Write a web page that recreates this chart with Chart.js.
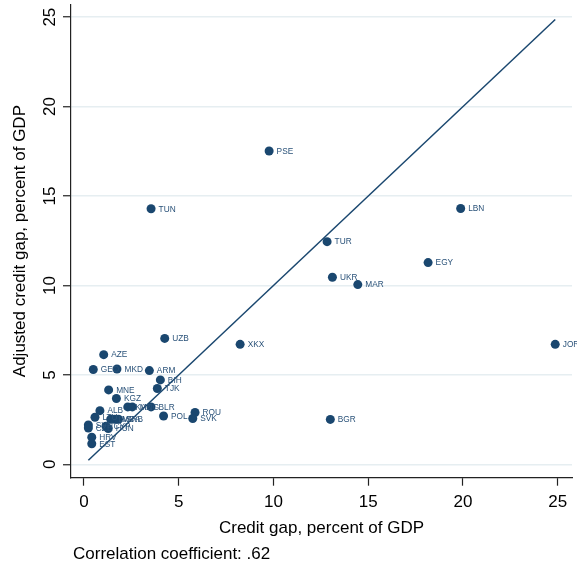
<!DOCTYPE html>
<html>
<head>
<meta charset="utf-8">
<script src="https://cdn.jsdelivr.net/npm/chart.js@4.4.1/dist/chart.umd.min.js"></script>
<style>
  html, body { margin: 0; padding: 0; background: #fff; }
  canvas { display: block; }
</style>
</head>
<body>
<canvas id="chart" width="577" height="570"></canvas>
<script>
  // country codes and the two gaps (percent of GDP)
  const countries = ['PSE', 'TUN', 'LBN', 'TUR', 'EGY', 'UKR', 'MAR', 'UZB', 'XKX', 'JOR',
    'AZE', 'GEO', 'MKD', 'ARM', 'BIH', 'TJK', 'MNE', 'KGZ', 'KAZ', 'MNG', 'BLR', 'ROU',
    'ALB', 'POL', 'SVK', 'BGR', 'LTU', 'LVA', 'MDA', 'SRB', 'SVN', 'CZE', 'CYP', 'HUN',
    'HRV', 'EST'];
  const creditGap = [9.77, 3.54, 19.88, 12.83, 18.16, 13.11, 14.45, 4.26, 8.24, 24.87,
    1.04, 0.49, 1.74, 3.45, 4.03, 3.87, 1.30, 1.71, 2.31, 2.55, 3.54, 5.86,
    0.84, 4.20, 5.74, 13.00, 0.58, 1.41, 1.62, 1.82, 0.23, 0.23, 1.16, 1.28,
    0.41, 0.41];
  const adjustedGap = [17.52, 14.29, 14.30, 12.45, 11.28, 10.46, 10.05, 7.04, 6.71, 6.71,
    6.13, 5.30, 5.33, 5.24, 4.72, 4.24, 4.16, 3.68, 3.21, 3.21, 3.21, 2.90,
    3.00, 2.70, 2.56, 2.51, 2.63, 2.52, 2.52, 2.52, 2.20, 2.03, 2.13, 2.00,
    1.52, 1.15];
  const xTicks = [0, 5, 10, 15, 20, 25];
  const yTicks = [0, 5, 10, 15, 20, 25];
  const xTitle = 'Credit gap, percent of GDP';
  const yTitle = 'Adjusted credit gap, percent of GDP';
  const note = 'Correlation coefficient: .62';

  const navy = '#1a476f';
  const font = '"Liberation Sans", Arial, sans-serif';

  const points = creditGap.map((x, i) => ({ x: x, y: adjustedGap[i] }));
  const lo = Math.min(...creditGap), hi = Math.max(...creditGap);
  const diag = [{ x: lo, y: lo }, { x: hi, y: hi }];

  const extras = {
    id: 'extras',
    afterDatasetsDraw(chart) {
      const ctx = chart.ctx;
      const meta = chart.getDatasetMeta(0);
      ctx.save();
      ctx.font = '8.3px ' + font;
      ctx.fillStyle = '#2a5279';
      ctx.textBaseline = 'middle';
      meta.data.forEach((pt, i) => ctx.fillText(countries[i], pt.x + 7.5, pt.y + 0.5));
      ctx.restore();
    },
    afterDraw(chart) {
      const ctx = chart.ctx, y = chart.scales.y;
      ctx.save();
      ctx.font = '17px ' + font;
      ctx.fillStyle = '#000';
      ctx.textAlign = 'center';
      yTicks.forEach(v => {
        ctx.save();
        ctx.translate(55, y.getPixelForValue(v));
        ctx.rotate(-Math.PI / 2);
        ctx.fillText(String(v), 0, 0);
        ctx.restore();
      });
      ctx.textAlign = 'left';
      ctx.fillText(note, 73, 559.3);
      ctx.restore();
    }
  };

  new Chart(document.getElementById('chart'), {
    type: 'scatter',
    data: {
      datasets: [{
        data: points,
        backgroundColor: navy,
        borderWidth: 0,
        pointRadius: 4.5,
        order: 2
      }, {
        type: 'line',
        data: diag,
        borderColor: navy,
        borderWidth: 1.5,
        pointRadius: 0,
        fill: false,
        order: 1
      }]
    },
    options: {
      responsive: false,
      animation: false,
      layout: { padding: { top: 3, right: 5, bottom: 0, left: 0 } },
      plugins: { legend: { display: false }, tooltip: { enabled: false } },
      scales: {
        x: {
          type: 'linear',
          min: -0.686,
          max: 25.755,
          afterBuildTicks: s => { s.ticks = xTicks.map(v => ({ value: v })); },
          afterFit: s => { s.height = 92.3; },
          grid: { drawOnChartArea: false, tickLength: 8, tickColor: '#222', tickWidth: 1.2 },
          border: { color: '#222', width: 1.2 },
          ticks: { color: '#000', font: { family: font, size: 17 }, padding: 6, maxRotation: 0 },
          title: { display: true, text: xTitle, color: '#000', font: { family: font, size: 17 },
            padding: { top: 0, bottom: 31 } }
        },
        y: {
          type: 'linear',
          min: -0.747,
          max: 25.708,
          afterBuildTicks: s => { s.ticks = yTicks.map(v => ({ value: v })); },
          afterFit: s => { s.width = 71; },
          grid: { color: '#e6eef1', lineWidth: 1.5, tickLength: 8, tickColor: '#222', tickWidth: 1.2 },
          border: { color: '#222', width: 1.2 },
          ticks: { display: false },
          title: { display: true, text: yTitle, color: '#000', font: { family: font, size: 17 },
            padding: { top: 10.4, bottom: 0 } }
        }
      }
    },
    plugins: [extras]
  });
</script>
</body>
</html>
